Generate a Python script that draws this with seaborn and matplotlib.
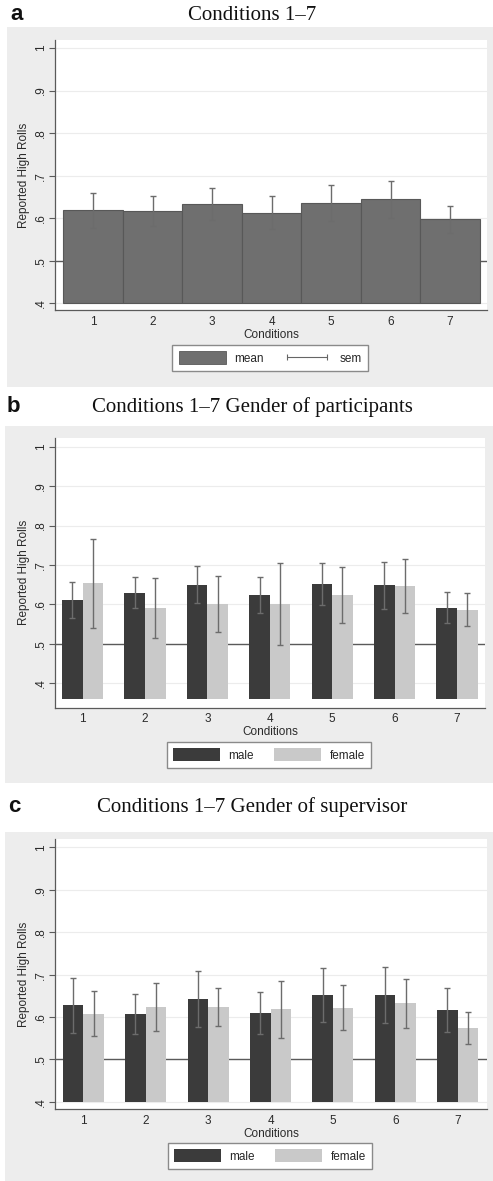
import numpy as np
import pandas as pd
import seaborn as sns
import matplotlib
matplotlib.use("Agg")
import matplotlib.pyplot as plt
from matplotlib.patches import Rectangle, Patch
from matplotlib.lines import Line2D

# ---------------- data ----------------
conditions = ["1", "2", "3", "4", "5", "6", "7"]

a_mean = [0.619, 0.617, 0.634, 0.613, 0.636, 0.644, 0.597]
a_sem = [0.041, 0.035, 0.038, 0.038, 0.042, 0.043, 0.032]

b_male = [0.611, 0.630, 0.650, 0.624, 0.651, 0.648, 0.592]
b_male_sem = [0.045, 0.040, 0.047, 0.045, 0.053, 0.059, 0.040]
b_female = [0.653, 0.592, 0.600, 0.601, 0.624, 0.646, 0.587]
b_female_sem = [0.113, 0.076, 0.071, 0.103, 0.070, 0.068, 0.042]

c_male = [0.628, 0.606, 0.642, 0.610, 0.651, 0.652, 0.617]
c_male_sem = [0.065, 0.047, 0.066, 0.050, 0.064, 0.067, 0.052]
c_female = [0.608, 0.624, 0.624, 0.618, 0.622, 0.632, 0.573]
c_female_sem = [0.053, 0.057, 0.045, 0.068, 0.054, 0.058, 0.038]

ytick_vals = [0.4, 0.5, 0.6, 0.7, 0.8, 0.9, 1.0]
ytick_labels = [".4", ".5", ".6", ".7", ".8", ".9", "1"]
titles = ["Conditions 1\u20137",
          "Conditions 1\u20137 Gender of participants",
          "Conditions 1\u20137 Gender of supervisor"]
letters = ["a", "b", "c"]

# ---------------- style ----------------
sns.set_theme(style="white")
plt.rcParams["font.family"] = ["Liberation Sans", "DejaVu Sans"]

W, H = 493, 1181
fig = plt.figure(figsize=(W / 100, H / 100), dpi=100)
fig.patch.set_facecolor("white")

BG = "#ededed"
MALE = "#3b3b3b"
FEMALE = "#c9c9c9"
MEAN = "#6f6f6f"
ERR = "#6c6c6c"
TXT = "#2a2a2a"


def add_bg(x0, y0, x1, y1):
    fig.add_artist(Rectangle((x0 / W, 1 - y1 / H), (x1 - x0) / W, (y1 - y0) / H,
                             transform=fig.transFigure, facecolor=BG,
                             edgecolor="none", zorder=-5))


def px_axes(left, top, right, bottom):
    return fig.add_axes([left / W, 1 - bottom / H, (right - left) / W, (bottom - top) / H])


def style_axes(ax, ylim, xlim):
    ax.set_facecolor("white")
    ax.set_ylim(*ylim)
    ax.set_xlim(*xlim)
    ax.set_yticks(ytick_vals)
    ax.set_yticklabels(ytick_labels)
    for s in ["top", "right"]:
        ax.spines[s].set_visible(False)
    for s in ["left", "bottom"]:
        ax.spines[s].set_color("#5a5a5a")
        ax.spines[s].set_linewidth(0.9)
    ax.tick_params(axis="y", left=True, length=4, width=0.8, color="#5a5a5a",
                   labelsize=8.5, labelcolor=TXT, labelrotation=90, pad=2)
    for lab in ax.get_yticklabels():
        lab.set_va("center")
    ax.tick_params(axis="x", bottom=False, length=0, labelsize=8.5,
                   labelcolor=TXT, pad=4)
    ax.set_axisbelow(True)
    ax.yaxis.grid(True, color="#ececec", lw=0.8)
    ax.xaxis.grid(False)
    ax.axhline(0.5, color="#5a5a5a", lw=1.0, zorder=1)
    ax.set_ylabel("Reported High Rolls", fontsize=8.5, color=TXT)
    ax.yaxis.set_label_coords(-25 / 432, 0.5)
    ax.set_xlabel("Conditions", fontsize=8.5, color=TXT)
    ax.xaxis.set_label_coords(0.5, -18.5 / 270)


def rebase(ax, base):
    for p in ax.patches:
        top = p.get_y() + p.get_height()
        p.set_y(base)
        p.set_height(top - base)


LEG_KW = dict(loc="center", ncol=2, frameon=True, fancybox=False,
              edgecolor="#8a8a8a", framealpha=1, fontsize=8.5,
              handlelength=4, handleheight=1.2, handletextpad=0.7,
              columnspacing=1.7, borderpad=0.55)

# ---------------- panel a ----------------
add_bg(7, 27, 493, 387)
ax_a = px_axes(55, 40, 487, 310)
df_a = pd.DataFrame({"Conditions": conditions, "mean": a_mean})
sns.barplot(data=df_a, x="Conditions", y="mean", color=MEAN, saturation=1,
            width=1.0, errorbar=None, edgecolor="#585858", linewidth=0.8,
            ax=ax_a, zorder=2)
style_axes(ax_a, (0.384, 1.019), (-0.64, 6.62))
rebase(ax_a, 0.4)
xs, ys, es = [], [], []
for p in ax_a.patches:
    xc = p.get_x() + p.get_width() / 2
    i = int(round(xc))
    xs.append(xc); ys.append(a_mean[i]); es.append(a_sem[i])
ax_a.errorbar(xs, ys, yerr=es, fmt="none", ecolor=ERR, elinewidth=1,
              capsize=2.5, capthick=1, zorder=3)

h_a = [Patch(facecolor=MEAN, edgecolor="#585858", lw=0.6),
       Line2D([0], [0], color="#666666", lw=0.8, marker="|", markersize=5,
              markeredgewidth=0.8)]
fig.legend(h_a, ["mean", "sem"], bbox_to_anchor=(270 / W, 1 - 358 / H),
           numpoints=2, **LEG_KW)

# ---------------- panels b and c ----------------
def grouped_panel(bg, box, ylim, xlim, base, male, male_sem, female, female_sem, leg_center):
    add_bg(*bg)
    ax = px_axes(*box)
    df = pd.DataFrame({
        "Conditions": conditions * 2,
        "value": male + female,
        "gender": ["male"] * 7 + ["female"] * 7,
    })
    sns.barplot(data=df, x="Conditions", y="value", hue="gender",
                hue_order=["male", "female"],
                palette={"male": MALE, "female": FEMALE}, saturation=1,
                width=0.66, errorbar=None, linewidth=0, legend=False,
                ax=ax, zorder=2)
    style_axes(ax, ylim, xlim)
    rebase(ax, base)
    xs, ys, es = [], [], []
    for p in ax.patches:
        if p.get_width() <= 0:
            continue
        xc = p.get_x() + p.get_width() / 2
        i = int(round(xc))
        if xc < i:
            xs.append(xc); ys.append(male[i]); es.append(male_sem[i])
        else:
            xs.append(xc); ys.append(female[i]); es.append(female_sem[i])
    ax.errorbar(xs, ys, yerr=es, fmt="none", ecolor=ERR, elinewidth=1,
                capsize=2.5, capthick=1, zorder=3)
    handles = [Patch(facecolor=MALE, edgecolor="none"),
               Patch(facecolor=FEMALE, edgecolor="none")]
    fig.legend(handles, ["male", "female"],
               bbox_to_anchor=(leg_center[0] / W, 1 - leg_center[1] / H), **LEG_KW)
    return ax


grouped_panel((5, 426, 493, 783), (55, 438, 485, 707.7), (0.338, 1.022),
              (-0.444, 6.45), 0.36, b_male, b_male_sem, b_female, b_female_sem,
              (269, 755))
grouped_panel((5, 832, 493, 1181), (55, 839, 487, 1109.3), (0.382, 1.02),
              (-0.454, 6.47), 0.4, c_male, c_male_sem, c_female, c_female_sem,
              (270, 1156))

# ---------------- titles and panel letters ----------------
title_y = [15, 407, 807]
letter_x = [17, 13, 14]
for t, l, y, lx in zip(titles, letters, title_y, letter_x):
    fig.text(252 / W, 1 - y / H, t, ha="center", va="center", fontsize=15,
             family=["Liberation Serif", "DejaVu Serif"], color="#111111")
    fig.text(lx / W, 1 - y / H, l, ha="center", va="center", fontsize=16,
             fontweight="bold", color="#111111")

fig.savefig("out.png", dpi=100)
